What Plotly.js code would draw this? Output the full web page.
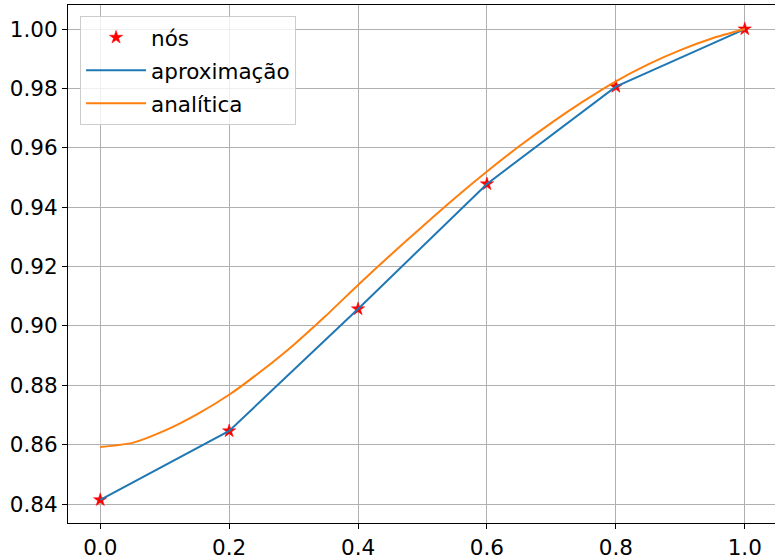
<!DOCTYPE html>
<html>
<head>
<meta charset="utf-8">
<script src="https://cdn.plot.ly/plotly-3.0.1.min.js"></script>
<style>
html, body { margin: 0; padding: 0; overflow: hidden; background: #fff; }
#chart { width: 778px; height: 556px; }
</style>
</head>
<body>
<div id="chart"></div>
<script>
// Nodes
const nodeX = [0.0, 0.2, 0.4, 0.6, 0.8, 1.0];
const nodeY = [0.8414, 0.8646, 0.9057, 0.9478, 0.9806, 1.0000];
// Analytic solution
const anaX = [0.00, 0.05, 0.10, 0.15, 0.20, 0.25, 0.30, 0.35, 0.40, 0.45, 0.50,
              0.55, 0.60, 0.65, 0.70, 0.75, 0.80, 0.85, 0.90, 0.95, 1.00];
const anaY = [0.8592, 0.8606, 0.8647, 0.8702, 0.8768, 0.8848, 0.8936, 0.9034, 0.9138, 0.9238, 0.9335,
              0.9430, 0.9520, 0.9605, 0.9684, 0.9757, 0.9824, 0.9881, 0.9929, 0.9969, 1.0000];
const xTicks = [0.0, 0.2, 0.4, 0.6, 0.8, 1.0];
const xTickText = ["0.0", "0.2", "0.4", "0.6", "0.8", "1.0"];
const yTicks = [0.84, 0.86, 0.88, 0.90, 0.92, 0.94, 0.96, 0.98, 1.00];
const yTickText = ["0.84", "0.86", "0.88", "0.90", "0.92", "0.94", "0.96", "0.98", "1.00"];
const seriesNames = ["nós", "aproximação", "analítica"];

const font = {family: "DejaVu Sans, sans-serif", size: 21.5, color: "#000"};

const traces = [
  {x: nodeX, y: nodeY, mode: "markers", name: seriesNames[0], legendgroup: "a",
   marker: {symbol: "star", size: 10, color: "red", line: {color: "red", width: 0.5}}},
  {x: nodeX, y: nodeY, mode: "lines", name: seriesNames[1], legendgroup: "b",
   line: {color: "#1f77b4", width: 2}},
  {x: anaX, y: anaY, mode: "lines", name: seriesNames[2], legendgroup: "c",
   line: {color: "#ff7f0e", width: 2, shape: "spline", smoothing: 0.6}}
];

const layout = {
  width: 778, height: 556,
  margin: {l: 68, r: 1, t: 5, b: 33},
  paper_bgcolor: "#fff", plot_bgcolor: "#fff",
  font: font,
  showlegend: true,
  legend: {x: 0.017, y: 0.979, xanchor: "left", yanchor: "top",
           bgcolor: "rgba(255,255,255,0.8)", bordercolor: "#cccccc", borderwidth: 1,
           font: font, itemwidth: 60, tracegroupgap: 2},
  xaxis: {range: [-0.05, 1.05], tickvals: xTicks, ticktext: xTickText,
          showgrid: true, gridcolor: "#b0b0b0", gridwidth: 1,
          zeroline: false, showline: true, linecolor: "#000", linewidth: 1, mirror: true,
          ticks: "outside", ticklen: 5, tickcolor: "#000", tickfont: font},
  yaxis: {range: [0.8336, 1.0081], tickvals: yTicks, ticktext: yTickText,
          showgrid: true, gridcolor: "#b0b0b0", gridwidth: 1,
          zeroline: false, showline: true, linecolor: "#000", linewidth: 1, mirror: true,
          ticks: "outside", ticklen: 5, tickcolor: "#000", tickfont: font}
};

Plotly.newPlot("chart", traces, layout, {displayModeBar: false, staticPlot: true});
</script>
</body>
</html>
